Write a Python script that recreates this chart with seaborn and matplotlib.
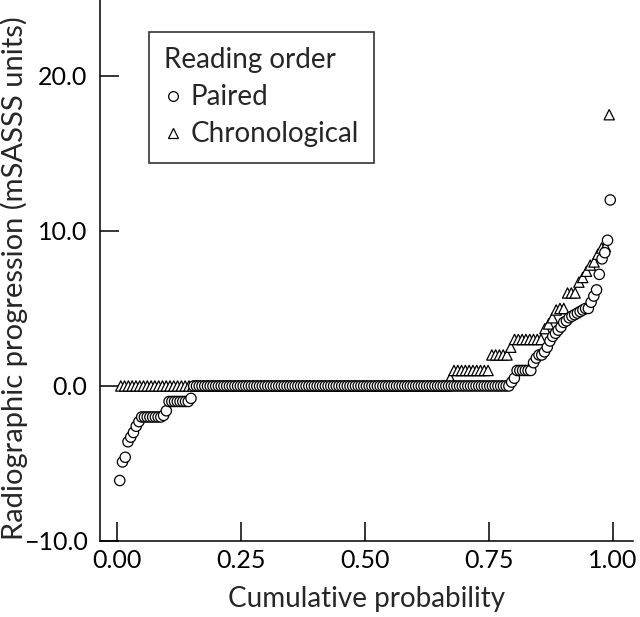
import numpy as np
import pandas as pd
import matplotlib
matplotlib.use("Agg")
import matplotlib.pyplot as plt
from matplotlib.lines import Line2D
import seaborn as sns

# Valores ordenados de progresión (mSASSS) por orden de lectura
paired = ([-6.1, -4.9, -4.6, -3.6, -3.3, -3.0, -2.6, -2.3]
          + [-2.0] * 8 + [-1.9, -1.6] + [-1.0] * 8 + [-0.8]
          + [0.0] * 116
          + [0.25, 0.5] + [1.0] * 6
          + [1.5, 1.8, 2.0, 2.0, 2.2, 2.5, 2.9, 3.2, 3.4, 3.6, 3.8, 4.1, 4.2,
             4.4, 4.5, 4.6, 4.7, 4.8, 4.9, 5.0, 5.0, 5.4, 5.8, 6.2, 7.2, 8.2,
             8.6, 9.4, 12.0])

chronological = ([0.0] * 87 + [0.5] + [1.0] * 10 + [2.0] * 5 + [2.5]
                 + [3.0] * 8
                 + [3.7, 4.0, 4.4, 4.9, 5.0, 5.0, 6.0, 6.0, 6.0, 6.7, 7.0,
                    7.4, 7.8, 8.0, 8.5, 8.9, 9.0, 17.5])

groups = ["Paired", "Chronological"]
marker_map = {"Paired": "o", "Chronological": "^"}

xticks = [0.0, 0.25, 0.5, 0.75, 1.0]
xticklabels = ["0.00", "0.25", "0.50", "0.75", "1.00"]
yticks = [-10, 0, 10, 20]
yticklabels = ["\u221210.0", "0.0", "10.0", "20.0"]


def cum_prob(vals):
    n = len(vals)
    return np.arange(1, n + 1) / (n + 1)


# triangulos primero para que los circulos queden encima
df = pd.concat([
    pd.DataFrame({"p": cum_prob(chronological), "y": chronological,
                  "order": "Chronological"}),
    pd.DataFrame({"p": cum_prob(paired), "y": paired, "order": "Paired"}),
], ignore_index=True)

sns.set_style("ticks")
plt.rcParams["font.family"] = ["Lato", "DejaVu Sans"]

fig = plt.figure(figsize=(6.4, 6.17), dpi=100)
ax = fig.add_axes([0.15625, 0.1232, 0.8328, 0.8768])

sns.scatterplot(data=df, x="p", y="y", style="order", markers=marker_map,
                style_order=groups, color="white", edgecolor="black",
                linewidth=0.9, s=55, legend=False, ax=ax)

ax.set_xlim(-0.0343, 1.0403)
ax.set_ylim(-10, 24.9)
ax.set_xticks(xticks)
ax.set_xticklabels(xticklabels)
ax.set_yticks(yticks)
ax.set_yticklabels(yticklabels)
ax.tick_params(direction="in", length=14, width=1.1, labelsize=18,
               colors="black")
ax.tick_params(axis="y", pad=9)
ax.tick_params(axis="x", pad=6)

for s in ["top", "right"]:
    ax.spines[s].set_visible(False)
for s in ["left", "bottom"]:
    ax.spines[s].set_linewidth(1.1)
    ax.spines[s].set_color("black")

ax.set_xlabel("Cumulative probability", fontsize=20)
ax.set_ylabel("Radiographic progression (mSASSS units)", fontsize=21)
ax.xaxis.set_label_coords(0.5, -0.083)
ax.yaxis.set_label_coords(-0.136, 0.485)

handles = [Line2D([], [], linestyle="none", marker=marker_map[g],
                  markerfacecolor="white", markeredgecolor="black",
                  markeredgewidth=0.9, markersize=7) for g in groups]
leg = ax.legend(handles, groups, title="Reading order", loc="upper left",
                bbox_to_anchor=(0.092, 0.941), borderaxespad=0,
                fontsize=20, title_fontsize=20, frameon=True, fancybox=False,
                edgecolor="black", handlelength=0.6, handletextpad=0.35,
                labelspacing=0.4, borderpad=0.55, alignment="left")
leg.get_frame().set_linewidth(1.2)

fig.savefig("out.png", dpi=100)
